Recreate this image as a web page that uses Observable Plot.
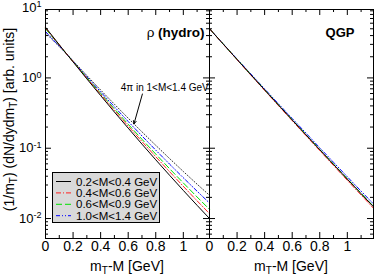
<!DOCTYPE html>
<html><head><meta charset="utf-8">
<script src="https://cdn.jsdelivr.net/npm/d3@7"></script>
<script src="https://cdn.jsdelivr.net/npm/@observablehq/plot@0.6"></script>
<style>
body{margin:0;background:#fff}
#chart{position:relative;width:374px;height:277px}
</style>
</head><body><div id="chart"></div>
<script>
// ---------- data ----------
const panels = ["hydro", "QGP"];
const seriesKeys = ["m02_04", "m04_06", "m06_09", "m10_14", "pi4"];
const legendLabels = ["0.2<M<0.4 GeV", "0.4<M<0.6 GeV", "0.6<M<0.9 GeV", "1.0<M<1.4 GeV"];
const annotationText = "4π in 1<M<1.4 GeV";

const xHydro = [0, 0.1, 0.15, 0.2, 0.3, 0.4, 0.5, 0.6, 0.7, 0.8, 0.9, 1.0, 1.1, 1.19];
const hydro02_04 = [5.25, 2.96, 2.23, 1.69, 0.969, 0.561, 0.327, 0.193, 0.1143, 0.0684, 0.0413, 0.0251, 0.0154, 0.0100];
const hydro04_06 = [5.13, 2.94, 2.23, 1.70, 0.991, 0.583, 0.3456, 0.2066, 0.1245, 0.0757, 0.0464, 0.0287, 0.01785, 0.01175];
const hydro06_09 = [5.01, 2.92, 2.23, 1.712, 1.011, 0.603, 0.362, 0.2194, 0.134, 0.0825, 0.0512, 0.0321, 0.02025, 0.0135];
const hydro10_14 = [4.57, 2.82, 2.23, 1.729, 1.042, 0.633, 0.388, 0.240, 0.1495, 0.0939, 0.0595, 0.038, 0.02446, 0.0166];
const hydro4pi   = [4.37, 2.79, 2.23, 1.75, 1.081, 0.673, 0.423, 0.2677, 0.1709, 0.11, 0.0714, 0.0467, 0.0308, 0.0214];

const xQGP = [0, 0.1, 0.2, 0.3, 0.4, 0.5, 0.6, 0.7, 0.8, 0.9, 1.0, 1.1, 1.19];
const qgp02_04 = [5.01, 3.024, 1.829, 1.110, 0.6756, 0.412, 0.2522, 0.1547, 0.0951, 0.0587, 0.0363, 0.02253, 0.01469];
const qgp04_06 = [5.01, 3.01, 1.815, 1.096, 0.665, 0.404, 0.2465, 0.1508, 0.0924, 0.0568, 0.0349, 0.0216, 0.0140];
const qgp06_09 = [5.01, 3.03, 1.835, 1.115, 0.68, 0.415, 0.2545, 0.1562, 0.0962, 0.0594, 0.0368, 0.0229, 0.0149];
const qgp10_14 = [5.01, 3.04, 1.857, 1.138, 0.698, 0.429, 0.265, 0.164, 0.1014, 0.0630, 0.0392, 0.0245, 0.0161];

const xMajor = [0, 0.2, 0.4, 0.6, 0.8, 1];
const xMinor = [0.1, 0.3, 0.5, 0.7, 0.9, 1.1];
const xTickLabels = ["0", "0.2", "0.4", "0.6", "0.8", "1"];
const yMajor = [0.01, 0.1, 1];
const yMinor = [0.006, 0.007, 0.008, 0.009, 0.02, 0.03, 0.04, 0.05, 0.06, 0.07, 0.08, 0.09,
                0.2, 0.3, 0.4, 0.5, 0.6, 0.7, 0.8, 0.9, 2, 3, 4, 5, 6, 7, 8, 9];
const yLabelTicks = [0.01, 0.1, 1, 10];
const yTickLabels = ["10^-2", "10^-1", "10^0", "10^1"];

// ---------- styles ----------
const styleOf = {
  m02_04: {stroke: "#000000", dash: null},
  m04_06: {stroke: "#ff2020", dash: "5,2,1,2"},
  m06_09: {stroke: "#00e000", dash: "6,3"},
  m10_14: {stroke: "#0000ff", dash: "4,2,1,2,1,2"},
  pi4:    {stroke: "#333333", dash: "1,2"}
};

// ---------- rows ----------
const rows = [];
function add(panel, key, xs, ys) { xs.forEach((x, i) => rows.push({panel, key, x, y: ys[i]})); }
add("hydro", "m02_04", xHydro, hydro02_04);
add("hydro", "m04_06", xHydro, hydro04_06);
add("hydro", "m06_09", xHydro, hydro06_09);
add("hydro", "m10_14", xHydro, hydro10_14);
add("hydro", "pi4", xHydro, hydro4pi);
add("QGP", "m02_04", xQGP, qgp02_04);
add("QGP", "m04_06", xQGP, qgp04_06);
add("QGP", "m06_09", xQGP, qgp06_09);
add("QGP", "m10_14", xQGP, qgp10_14);

// ---------- layout ----------
const W = 374, H = 277, mL = 45, mR = 1, mT = 9, mB = 39;
const facetW = (W - mL - mR) / 2;
const plotH = H - mT - mB;
const majorLen = 6, minorLen = 3;
const font = "'Liberation Sans', Arial, Helvetica, sans-serif";

// annotation tip on the 4π curve
const tipX = 0.642;
const tipY = Math.exp(d3.scaleLinear().domain(xHydro).range(hydro4pi.map(Math.log))(tipX));
const annot = [{panel: "hydro", x1: 0.703, y1: 0.59, x2: tipX, y2: tipY, tx: 0.865, ty: 0.72}];

const lineMarks = ["pi4", "m10_14", "m06_09", "m04_06", "m02_04"].map(k =>
  Plot.line(rows.filter(r => r.key === k), {
    x: "x", y: "y", fx: "panel",
    stroke: styleOf[k].stroke, strokeWidth: 1,
    strokeDasharray: styleOf[k].dash || undefined
  })
);

const tickMarks = [
  Plot.ruleX(xMajor, {x: d => d, insetTop: plotH - majorLen}),
  Plot.ruleX(xMinor, {x: d => d, insetTop: plotH - minorLen}),
  Plot.ruleX(xMajor, {x: d => d, insetBottom: plotH - majorLen}),
  Plot.ruleX(xMinor, {x: d => d, insetBottom: plotH - minorLen}),
  Plot.ruleY(yMajor, {y: d => d, insetRight: facetW - majorLen}),
  Plot.ruleY(yMinor, {y: d => d, insetRight: facetW - minorLen}),
  Plot.ruleY(yMajor, {y: d => d, insetLeft: facetW - majorLen}),
  Plot.ruleY(yMinor, {y: d => d, insetLeft: facetW - minorLen})
];

const plot = Plot.plot({
  width: W, height: H,
  marginLeft: mL, marginRight: mR, marginTop: mT, marginBottom: mB,
  style: {fontFamily: font, fontSize: "13px", background: "white", overflow: "visible", color: "black"},
  fx: {domain: panels, padding: 0, axis: null, label: null},
  x: {domain: [0, 1.19], label: null},
  y: {type: "log", domain: [0.0052, 9.4], label: null},
  marks: [
    ...lineMarks,
    ...tickMarks,
    Plot.frame({stroke: "black", strokeWidth: 1}),
    Plot.axisX(xMajor, {tickSize: 0, tickPadding: 3, fontSize: 14,
      tickFormat: d => xTickLabels[xMajor.indexOf(d)], label: null}),
    Plot.axisY(yLabelTicks, {anchor: "left", tickSize: 0, tickPadding: 4, fontSize: 13,
      tickFormat: d => yTickLabels[yLabelTicks.indexOf(d)], label: null}),
    Plot.text([{panel: "hydro", t: "(hydro)"}], {fx: "panel", text: "t", frameAnchor: "top-right",
      dx: -5, dy: 18, textAnchor: "end", fontWeight: "bold", fontSize: 13.5}),
    Plot.text([{panel: "hydro", t: "ρ"}], {fx: "panel", text: "t", frameAnchor: "top-right",
      dx: -55, dy: 18, textAnchor: "end", fontSize: 13.5}),
    Plot.text([{panel: "QGP", t: "QGP"}], {fx: "panel", text: "t", frameAnchor: "top-right",
      dx: -19, dy: 18, textAnchor: "end", fontWeight: "bold", fontSize: 13}),
    Plot.arrow(annot, {fx: "panel", x1: "x1", y1: "y1", x2: "x2", y2: "y2",
      stroke: "black", strokeWidth: 1, headLength: 5, headAngle: 50}),
    Plot.text(annot, {fx: "panel", x: "tx", y: "ty", text: () => annotationText, fontSize: 10})
  ]
});

const svg = plot.tagName.toLowerCase() === "svg" ? plot : plot.querySelector("svg");
document.getElementById("chart").appendChild(plot);
const S = d3.select(svg);

// superscript y tick labels
S.selectAll('g[aria-label="y-axis tick label"] text').each(function() {
  const s = this.textContent;
  const parts = s.split("^");
  const t = d3.select(this);
  t.text(null);
  t.append("tspan").text(parts[0]);
  t.append("tspan").attr("dy", "-0.5em").attr("font-size", "9px").text(parts[1]);
});

// axis titles
panels.forEach((p, i) => {
  const cx = mL + facetW * (i + 0.5);
  const t = S.append("text").attr("x", cx).attr("y", 271).attr("text-anchor", "middle")
    .attr("font-family", font).attr("font-size", 14);
  t.append("tspan").text("m");
  t.append("tspan").attr("dy", 3).attr("font-size", 10).text("T");
  t.append("tspan").attr("dy", -3).text("-M [GeV]");
});
{
  const t = S.append("text").attr("transform", `translate(14,${mT + plotH / 2 - 4}) rotate(-90)`)
    .attr("text-anchor", "middle").attr("font-family", font).attr("font-size", 14);
  t.append("tspan").text("(1/m");
  t.append("tspan").attr("dy", 3).attr("font-size", 10).text("T");
  t.append("tspan").attr("dy", -3).text(") (dN/dydm");
  t.append("tspan").attr("dy", 3).attr("font-size", 10).text("T");
  t.append("tspan").attr("dy", -3).text(") [arb. units]");
}

// legend
{
  const lx = 52, ly = 172, lw = 107, lh = 50, rowH = 11.4;
  const g = S.append("g").attr("font-family", font).attr("font-size", 11.5).attr("text-anchor", "start");
  g.append("rect").attr("x", lx + 0.5).attr("y", ly + 0.5).attr("width", lw).attr("height", lh)
    .attr("fill", "#d9d9d9").attr("stroke", "black");
  legendLabels.forEach((lab, i) => {
    const k = seriesKeys[i];
    const cy = ly + 9.5 + i * rowH;
    g.append("line").attr("x1", lx + 4).attr("x2", lx + 19).attr("y1", cy).attr("y2", cy)
      .attr("stroke", styleOf[k].stroke).attr("stroke-width", 1)
      .attr("stroke-dasharray", styleOf[k].dash);
    g.append("text").attr("x", lx + 24).attr("y", cy).attr("dy", "0.35em")
      .attr("text-anchor", "start").text(lab);
  });
}
</script>
</body></html>
